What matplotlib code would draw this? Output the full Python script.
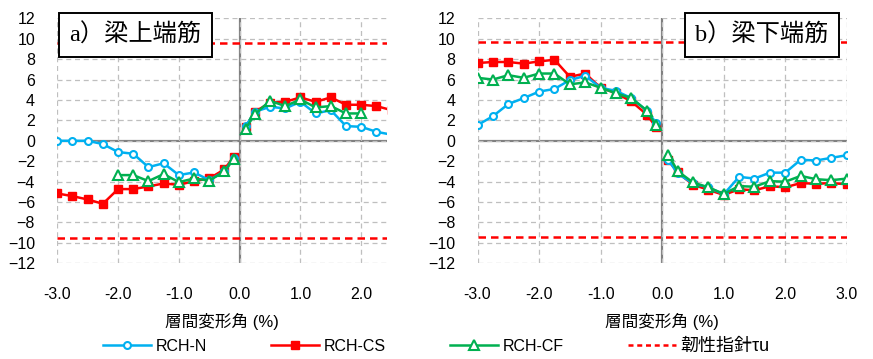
import matplotlib.pyplot as plt
from matplotlib.lines import Line2D

plt.rcParams['font.family'] = ['Liberation Sans', 'Noto Sans CJK JP']

# ---- data ----
# a) upper bars
xa_neg = [-3.0, -2.75, -2.5, -2.25, -2.0, -1.75, -1.5, -1.25, -1.0, -0.75, -0.5, -0.25, -0.1]
xa_pos = [0.1, 0.25, 0.5, 0.75, 1.0, 1.25, 1.5, 1.75, 2.0, 2.25, 2.5]
a_n_neg = [0.0, 0.0, 0.0, -0.32, -1.1, -1.27, -2.58, -2.2, -3.36, -3.1, -3.85, -3.0, -1.73]
a_n_pos = [1.44, 2.84, 3.33, 3.17, 3.82, 2.68, 3.0, 1.44, 1.37, 0.88, 0.6]
a_cs_neg = [-5.16, -5.42, -5.75, -6.17, -4.73, -4.73, -4.47, -4.18, -4.31, -3.95, -3.69, -2.8, -1.57]
a_cs_pos = [1.37, 2.84, 3.73, 3.82, 4.25, 3.82, 4.25, 3.53, 3.53, 3.4, 3.0]
xa_cf_neg = [-2.0, -1.75, -1.5, -1.25, -1.0, -0.75, -0.5, -0.25, -0.1]
a_cf_neg = [-3.36, -3.36, -3.95, -3.26, -4.05, -3.69, -3.9, -3.0, -1.8]
xa_cf_pos = [0.1, 0.25, 0.5, 0.75, 1.0, 1.25, 1.5, 1.75, 2.0]
a_cf_pos = [1.2, 2.6, 3.92, 3.4, 4.05, 3.27, 3.4, 2.68, 2.68]
a_tau = [9.6, -9.55]

# b) lower bars
xb_neg = [-3.0, -2.75, -2.5, -2.25, -2.0, -1.75, -1.5, -1.25, -1.0, -0.75, -0.5, -0.25, -0.1]
xb_pos = [0.1, 0.25, 0.5, 0.75, 1.0, 1.25, 1.5, 1.75, 2.0, 2.25, 2.5, 2.75, 3.0]
b_n_neg = [1.54, 2.41, 3.6, 4.18, 4.82, 5.08, 5.95, 6.37, 5.2, 4.89, 4.18, 2.96, 1.77]
b_n_pos = [-1.86, -3.2, -4.18, -4.56, -5.24, -3.53, -3.7, -3.12, -3.12, -1.86, -1.93, -1.67, -1.41]
b_cs_neg = [7.62, 7.72, 7.72, 7.56, 7.78, 7.94, 6.27, 6.59, 5.2, 4.66, 3.86, 2.57, 1.35]
b_cs_pos = [-1.9, -3.1, -4.3, -4.8, -5.3, -4.75, -4.85, -4.45, -4.55, -4.15, -4.2, -4.15, -4.25]
b_cf_neg = [6.17, 6.0, 6.43, 6.17, 6.59, 6.59, 5.53, 5.72, 5.2, 4.66, 4.18, 2.96, 1.51]
b_cf_pos = [-1.35, -2.96, -4.08, -4.56, -5.2, -4.44, -4.5, -3.95, -4.01, -3.44, -3.76, -3.86, -3.7]
b_tau = [9.7, -9.4]

blue = '#00B0F0'
red = '#FF0000'
green = '#00B050'

sty_n = dict(color=blue, lw=1.8, marker='o', ms=5, mfc='white', mec=blue, mew=1.5)
sty_cs = dict(color=red, lw=1.8, marker='s', ms=5.5, mfc=red, mec=red)
sty_cf = dict(color=green, lw=1.8, marker='^', ms=7, mfc='white', mec=green, mew=1.5)

fig = plt.figure(figsize=(8.73, 3.59), dpi=100)
ax1 = fig.add_axes([0.0656, 0.2666, 0.443 - 0.0656, 0.949 - 0.2666])
ax2 = fig.add_axes([0.547, 0.2666, 0.970 - 0.547, 0.949 - 0.2666])


def setup(ax, xmax):
    ax.set_xlim(-3.0, xmax)
    ax.set_ylim(-12, 12)
    ax.set_yticks(range(-12, 13, 2))
    xt = [v for v in [-3, -2, -1, 0, 1, 2, 3] if v <= xmax + 1e-6]
    ax.set_xticks(xt)
    ax.set_xticklabels(['%.1f' % v for v in xt])
    for s in ax.spines.values():
        s.set_visible(False)
    ax.grid(True, ls=(0, (4, 3)), color='#BFBFBF', lw=0.9)
    ax.axhline(0, color='#808080', lw=1.6, zorder=1.5)
    ax.axvline(0, color='#808080', lw=1.6, zorder=1.5)
    ax.tick_params(length=0, labelsize=11.5)
    ax.tick_params(axis='x', pad=17)
    ax.tick_params(axis='y', pad=16)
    ax.set_xlabel('層間変形角 (%)', fontsize=12, labelpad=8)


setup(ax1, 2.42)
setup(ax2, 3.0)

# panel a
ax1.axhline(a_tau[0], color=red, ls=(0, (3, 2)), lw=1.8, zorder=2)
ax1.axhline(a_tau[1], color=red, ls=(0, (3, 2)), lw=1.8, zorder=2)
ax1.plot(xa_neg, a_cs_neg, **sty_cs, zorder=3)
ax1.plot(xa_pos, a_cs_pos, **sty_cs, zorder=3)
ax1.plot(xa_neg, a_n_neg, **sty_n, zorder=4)
ax1.plot(xa_pos, a_n_pos, **sty_n, zorder=4)
ax1.plot(xa_cf_neg, a_cf_neg, **sty_cf, zorder=5)
ax1.plot(xa_cf_pos, a_cf_pos, **sty_cf, zorder=5)

# panel b
ax2.axhline(b_tau[0], color=red, ls=(0, (3, 2)), lw=1.8, zorder=2)
ax2.axhline(b_tau[1], color=red, ls=(0, (3, 2)), lw=1.8, zorder=2)
ax2.plot(xb_neg, b_cs_neg, **sty_cs, zorder=3)
ax2.plot(xb_pos, b_cs_pos, **sty_cs, zorder=3)
ax2.plot(xb_neg, b_n_neg, **sty_n, zorder=4)
ax2.plot(xb_pos, b_n_pos, **sty_n, zorder=4)
ax2.plot(xb_neg, b_cf_neg, **sty_cf, zorder=5)
ax2.plot(xb_pos, b_cf_pos, **sty_cf, zorder=5)

# panel titles in boxes
box = dict(boxstyle='square,pad=0.42', fc='white', ec='black', lw=1.4)
fig.text(0.155, 0.9025, 'a）梁上端筋', fontsize=17.5, ha='center', va='center',
         family=['Liberation Serif', 'Noto Sans CJK JP'], bbox=box, zorder=10)
fig.text(0.873, 0.9025, 'b）梁下端筋', fontsize=17.5, ha='center', va='center',
         family=['Liberation Serif', 'Noto Sans CJK JP'], bbox=box, zorder=10)

# legend
handles = [
    Line2D([], [], **sty_n),
    Line2D([], [], **sty_cs),
    Line2D([], [], **sty_cf),
    Line2D([], [], color=red, ls=(0, (2, 1.5)), lw=1.8),
]
labels = ['RCH-N', 'RCH-CS', 'RCH-CF', '韌性指針τu']
leg = fig.legend(handles, labels, loc='center', bbox_to_anchor=(0.5, 0.036), ncol=4,
                 frameon=False, fontsize=11.5, handlelength=3.0, columnspacing=4.0,
                 handletextpad=0.3)
leg.get_texts()[3].set_fontsize(13)

fig.savefig('out.png', dpi=100)
